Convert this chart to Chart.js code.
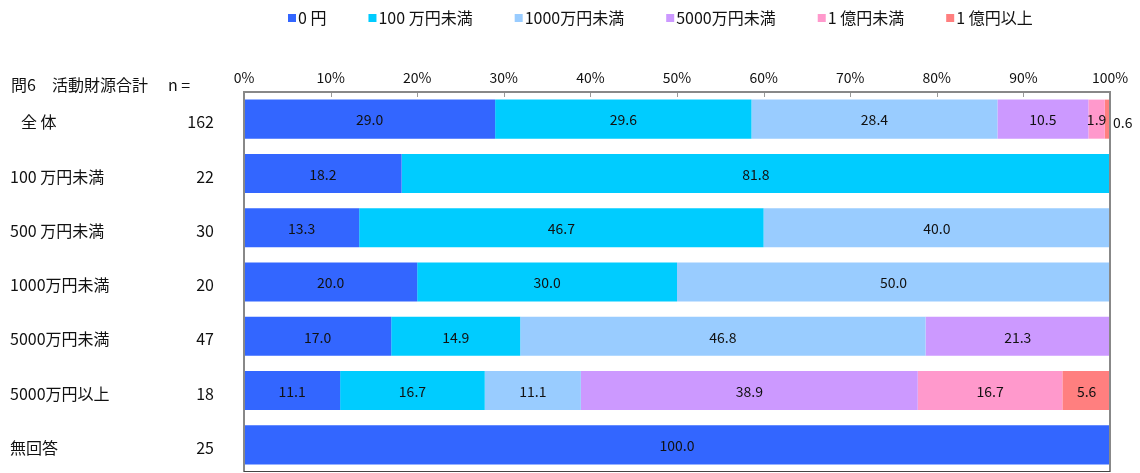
<!DOCTYPE html>
<html>
<head>
<meta charset="utf-8">
<script src="https://cdn.jsdelivr.net/npm/chart.js@4/dist/chart.umd.min.js"></script>
<style>
  html, body { margin: 0; padding: 0; background: #fff; }
  #wrap { width: 1140px; height: 473px; position: relative; }
</style>
</head>
<body>
<div id="wrap"><canvas id="fundChart"></canvas></div>
<script>
// 問6 活動財源合計 - row groups and their respondent counts
const categories = ['全 体', '100 万円未満', '500 万円未満', '1000万円未満', '5000万円未満', '5000万円以上', '無回答'];
const counts = [162, 22, 30, 20, 47, 18, 25];

const seriesNames = ['0 円', '100 万円未満', '1000万円未満', '5000万円未満', '1 億円未満', '1 億円以上'];
const seriesColors = ['#3366FF', '#00CCFF', '#99CCFF', '#CC99FF', '#FF99CC', '#FF7F7F'];

const zeroYen     = [29.0, 18.2, 13.3, 20.0, 17.0, 11.1, 100.0];
const under100    = [29.6, 81.8, 46.7, 30.0, 14.9, 16.7, 0];
const under1000   = [28.4, 0, 40.0, 50.0, 46.8, 11.1, 0];
const under5000   = [10.5, 0, 0, 0, 21.3, 38.9, 0];
const underOku    = [1.9, 0, 0, 0, 0, 16.7, 0];
const overOku     = [0.6, 0, 0, 0, 0, 5.6, 0];

const tickValues = [0, 10, 20, 30, 40, 50, 60, 70, 80, 90, 100];

const FONT = '"Liberation Sans Narrow", "Noto Sans CJK JP", sans-serif';
const seriesData = [zeroYen, under100, under1000, under5000, underOku, overOku];

const datasets = seriesNames.map((name, i) => ({
    label: name,
    data: seriesData[i],
    backgroundColor: seriesColors[i],
    borderWidth: 0,
    categoryPercentage: 1.0,
    barPercentage: 0.72
}));

// frame, inward ticks, legend, left-hand labels and value labels
const decorations = {
    id: 'decorations',
    beforeDatasetsDraw(chart) {
        const { ctx, chartArea: a } = chart;
        ctx.save();
        ctx.strokeStyle = '#999';
        ctx.lineWidth = 1;
        const x = chart.scales.x;
        tickValues.forEach(v => {
            const px = Math.round(x.getPixelForValue(v)) + 0.5;
            ctx.beginPath();
            ctx.moveTo(px, a.top);
            ctx.lineTo(px, a.top + 5);
            ctx.stroke();
        });
        ctx.restore();
    },
    afterDatasetsDraw(chart) {
        const { ctx, chartArea: a } = chart;
        const y = chart.scales.y;
        ctx.save();

        // plot frame
        ctx.strokeStyle = '#888';
        ctx.lineWidth = 2;
        ctx.beginPath();
        ctx.moveTo(a.left, a.bottom);
        ctx.lineTo(a.left, a.top);
        ctx.lineTo(a.right, a.top);
        ctx.lineTo(a.right, a.bottom);
        ctx.stroke();
        ctx.strokeStyle = '#444';
        ctx.lineWidth = 1;
        ctx.beginPath();
        ctx.moveTo(a.left, a.bottom - 0.5);
        ctx.lineTo(a.right, a.bottom - 0.5);
        ctx.stroke();

        // value labels
        ctx.fillStyle = '#111';
        ctx.font = '14px ' + FONT;
        ctx.textBaseline = 'middle';
        chart.data.datasets.forEach((ds, di) => {
            const meta = chart.getDatasetMeta(di);
            meta.data.forEach((bar, i) => {
                const v = ds.data[i];
                if (!v) return;
                const txt = v.toFixed(1);
                if (v < 1) {
                    ctx.textAlign = 'left';
                    ctx.fillText(txt, a.right + 3, bar.y + 4);
                } else {
                    ctx.textAlign = 'center';
                    ctx.fillText(txt, (bar.x + bar.base) / 2, bar.y + 1);
                }
            });
        });

        // row labels and n
        ctx.font = '16px ' + FONT;
        categories.forEach((c, i) => {
            const py = y.getPixelForValue(i) + 3;
            ctx.textAlign = 'left';
            ctx.fillText(c, i === 0 ? 21 : 10, py);
            ctx.textAlign = 'right';
            ctx.fillText(String(counts[i]), 214, py);
        });
        ctx.textAlign = 'left';
        ctx.fillText('問6　活動財源合計', 11, 85);
        ctx.fillText('n =', 168, 85);

        // legend row
        let lx = 288;
        seriesNames.forEach((name, i) => {
            ctx.fillStyle = seriesColors[i];
            ctx.fillRect(lx, 14, 8, 8);
            ctx.fillStyle = '#111';
            ctx.fillText(name, lx + 10, 18);
            lx += 10 + ctx.measureText(name).width + 42;
        });
        ctx.restore();
    }
};

new Chart(document.getElementById('fundChart'), {
    type: 'bar',
    data: { labels: categories, datasets: datasets },
    options: {
        indexAxis: 'y',
        responsive: true,
        maintainAspectRatio: false,
        animation: false,
        layout: { padding: { left: 244, right: 30, top: 60, bottom: 1 } },
        scales: {
            x: {
                position: 'top',
                stacked: true,
                min: 0,
                max: 100,
                afterBuildTicks(scale) {
                    scale.ticks = tickValues.map(v => ({ value: v }));
                },
                afterFit(scale) { scale.height = 32; },
                grid: { display: false, drawTicks: false, tickLength: 0 },
                border: { display: false },
                ticks: {
                    color: '#111',
                    font: { family: FONT, size: 14 },
                    padding: 6,
                    maxRotation: 0,
                    callback: v => v + '%'
                }
            },
            y: {
                stacked: true,
                display: false
            }
        },
        plugins: {
            legend: { display: false },
            tooltip: { enabled: false }
        }
    },
    plugins: [decorations]
});
</script>
</body>
</html>
